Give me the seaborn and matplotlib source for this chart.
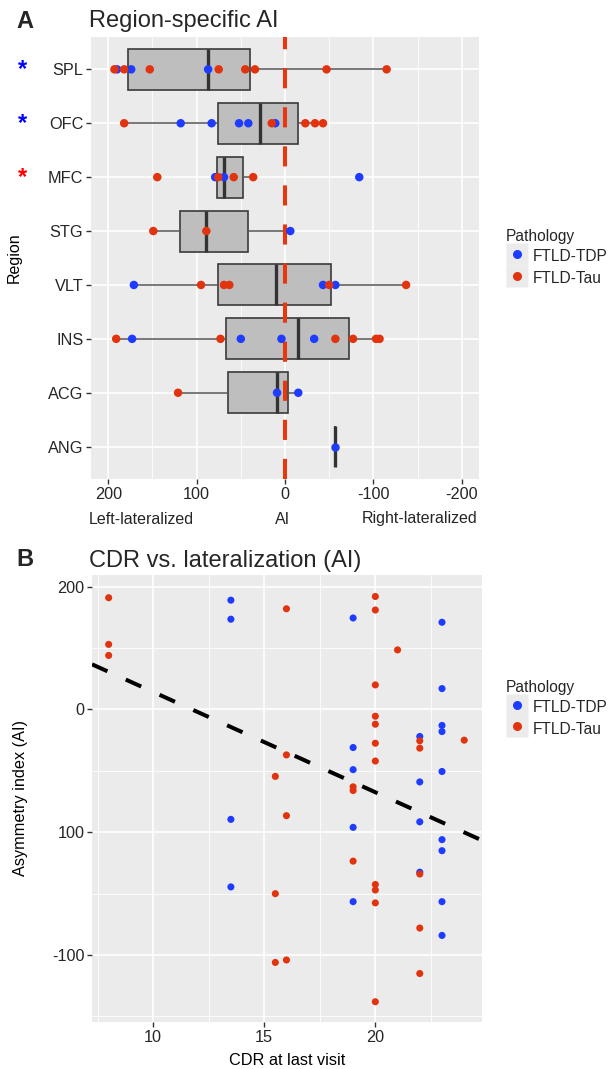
import matplotlib
matplotlib.use('Agg')
import matplotlib.pyplot as plt
import seaborn as sns
import pandas as pd
from matplotlib.lines import Line2D
from matplotlib.legend_handler import HandlerTuple

# ---- panel A data: asymmetry index per region, split by pathology
regions = ['SPL', 'OFC', 'MFC', 'STG', 'VLT', 'INS', 'ACG', 'ANG']
tdp_ai = {
    'SPL': [190, 174, 87],
    'OFC': [118, 83, 52, 41.5, 11],
    'MFC': [79, 69, -84],
    'STG': [-6],
    'VLT': [171, -43, -57],
    'INS': [173, 50, 4, -33],
    'ACG': [9, -15],
    'ANG': [-57],
}
tau_ai = {
    'SPL': [193, 182, 153, 75, 45, 34, -47, -115],
    'OFC': [182, 15, -23, -34, -43],
    'MFC': [144.5, 75.5, 58, 36],
    'STG': [149, 89],
    'VLT': [95, 69, 63, -50, -137],
    'INS': [191, 73, -57, -77, -103, -107],
    'ACG': [121],
    'ANG': [],
}
starred = {'SPL': 'blue', 'OFC': 'blue', 'MFC': 'red'}

# ---- panel B data: CDR at last visit vs AI
cdr_tdp = [13.5, 13.5, 13.5, 13.5, 19, 19, 19, 19, 19, 22, 22, 22, 22,
           23, 23, 23, 23, 23, 23, 23, 23, 23]
ai_tdp = [189, 173.5, 10.5, -44.5, 174.5, 69, 51, 4, -56.5, 78, 41, 8.5, -32.5,
          171, 117, 87, 82, 49.5, -6, -15, -56.5, -84]
cdr_tau = [8, 8, 8, 15.5, 15.5, 15.5, 16, 16, 16, 16, 19, 19, 19,
           20, 20, 20, 20, 20, 20, 20, 20, 20, 20, 20, 21, 22, 22, 22, 22, 22, 24]
ai_tau = [191, 153, 144, 45.5, -50, -106, 182, 63, 13.5, -104, 37, 34, -23.5,
          192, 181, 120, 94.5, 88, 72.5, 58, -42.5, -47, -57.5, -138,
          148.5, 74.5, 68.5, -34, -78, -115, 75]
# fitted trend line shown in the figure (AI = intercept + slope * CDR)
fit_intercept = 196
fit_slope = -8.17

path_colors = {'FTLD-TDP': '#1E3CFF', 'FTLD-Tau': '#E2330F'}

rows = []
for r in regions:
    rows += [(r, v, 'FTLD-TDP') for v in tdp_ai[r]]
    rows += [(r, v, 'FTLD-Tau') for v in tau_ai[r]]
df_a = pd.DataFrame(rows, columns=['Region', 'AI', 'Pathology'])

df_b = pd.DataFrame({
    'CDR': cdr_tdp + cdr_tau,
    'AI': ai_tdp + ai_tau,
    'Pathology': ['FTLD-TDP'] * len(cdr_tdp) + ['FTLD-Tau'] * len(cdr_tau),
})

sns.set_theme(style='darkgrid', rc={
    'axes.facecolor': '#EBEBEB',
    'grid.color': 'white',
    'axes.edgecolor': 'none',
    'xtick.color': '#333333',
    'ytick.color': '#333333',
    'xtick.labelcolor': '#262626',
    'ytick.labelcolor': '#262626',
})
plt.rcParams['font.family'] = ['Liberation Sans', 'DejaVu Sans']

fig = plt.figure(figsize=(6.14, 10.69), dpi=100)
W, H = 614, 1069
ax_a = fig.add_axes([91 / W, 1 - 479 / H, 388 / W, 442 / H])
ax_b = fig.add_axes([92 / W, 1 - 1022 / H, 390 / W, 447 / H])


def style_axis(ax):
    ax.grid(which='major', color='white', linewidth=1.2)
    ax.grid(which='minor', color='white', linewidth=0.6)
    ax.tick_params(which='major', length=3.5, width=1, labelsize=11.7, pad=2,
                   bottom=True, left=True)
    ax.tick_params(which='minor', length=0, bottom=False, left=False)
    for s in ax.spines.values():
        s.set_visible(False)


def pathology_legend(ax, y_frac, x_frac):
    handles = []
    for name in ['FTLD-TDP', 'FTLD-Tau']:
        bg = Line2D([], [], marker='s', ms=16.5, mfc='#EBEBEB', mec='none', ls='')
        dot = Line2D([], [], marker='o', ms=6.5, mfc=path_colors[name], mec='none', ls='')
        handles.append((bg, dot))
    leg = ax.legend(handles, ['FTLD-TDP', 'FTLD-Tau'], title='Pathology',
                    handler_map={tuple: HandlerTuple(ndivide=1, pad=0)},
                    loc='center left', bbox_to_anchor=(x_frac, y_frac),
                    frameon=False, fontsize=11.2, title_fontsize=11.2,
                    handlelength=1.44, handleheight=1.44, handletextpad=0.3,
                    labelspacing=0.2, borderpad=0, borderaxespad=0,
                    alignment='left')
    return leg


# ---------------- panel A ----------------
sns.boxplot(data=df_a, x='AI', y='Region', order=regions, ax=ax_a,
            color='#BEBEBE', saturation=1, width=0.76, showfliers=False,
            showcaps=False, linecolor='#3A3A3A', linewidth=1.2,
            whiskerprops=dict(color='#555555', linewidth=1.1),
            medianprops=dict(color='#333333', linewidth=2.4))
ax_a.axvline(0, color='#E8360E', linewidth=2.9, linestyle=(0, (5, 4.7)), zorder=3)
sns.stripplot(data=df_a, x='AI', y='Region', order=regions, hue='Pathology',
              hue_order=['FTLD-TDP', 'FTLD-Tau'], palette=path_colors,
              jitter=False, size=6.1, linewidth=0, legend=False, zorder=4, ax=ax_a)

ax_a.set_xlim(219.5, -219.5)
ax_a.set_ylim(7.6, -0.6)
ax_a.set_xticks([200, 100, 0, -100, -200])
ax_a.set_xticklabels(['200', '100', '0', '-100', '-200'])
ax_a.set_xticks([150, 50, -50, -150], minor=True)
ax_a.set_xlabel('')
ax_a.set_ylabel('Region', fontsize=11.5, color='black')
ax_a.yaxis.set_label_coords(-0.178, 0.5)
style_axis(ax_a)
pathology_legend(ax_a, 0.5, (506 - 91) / 388)

for lbl, xp in [('Left-lateralized', 141), ('AI', 283), ('Right-lateralized', 420)]:
    fig.text(xp / W, 1 - 519 / H, lbl, ha='center', va='center', fontsize=11.5)

for r, c in starred.items():
    yp = 69 + 54 * regions.index(r)
    fig.text(23 / W, 1 - (yp + 1) / H, '*', color=c, fontsize=17,
             fontweight='bold', ha='center', va='center')

fig.text(16 / W, 1 - 28 / H, 'A', fontsize=17, fontweight='bold', va='baseline')
fig.text(89 / W, 1 - 27 / H, 'Region-specific AI', fontsize=17, va='baseline')

# ---------------- panel B ----------------
ax_b.axline((0, fit_intercept), slope=fit_slope, color='black', linewidth=2.9,
            linestyle=(0, (4.2, 5)), zorder=3)
sns.scatterplot(data=df_b, x='CDR', y='AI', hue='Pathology',
                hue_order=['FTLD-TDP', 'FTLD-Tau'], palette=path_colors,
                s=26, linewidth=0, legend=False, zorder=4, ax=ax_b)
ax_b.set_xlim(7.25, 24.8)
ax_b.set_ylim(-154.5, 209.5)
ax_b.set_xticks([10, 15, 20])
ax_b.set_xticks([7.5, 12.5, 17.5, 22.5], minor=True)
ax_b.set_yticks([200, 100, 0, -100])
ax_b.set_yticklabels(['200', '0', '100', '-100'])
ax_b.set_yticks([150, 50, -50, -150], minor=True)
ax_b.set_xlabel('CDR at last visit', fontsize=11.7, color='black')
ax_b.xaxis.set_label_coords(0.5, -0.069)
ax_b.xaxis.label.set_va('top')
ax_b.set_ylabel('Asymmetry index (AI)', fontsize=11.7, color='black')
ax_b.yaxis.set_label_coords(-0.164, 0.5)
style_axis(ax_b)
pathology_legend(ax_b, 0.701, (506 - 92) / 390)

fig.text(16 / W, 1 - 566.5 / H, 'B', fontsize=17, fontweight='bold', va='baseline')
fig.text(89 / W, 1 - 566.5 / H, 'CDR vs. lateralization (AI)', fontsize=17, va='baseline')

fig.savefig('out.png', dpi=100)
